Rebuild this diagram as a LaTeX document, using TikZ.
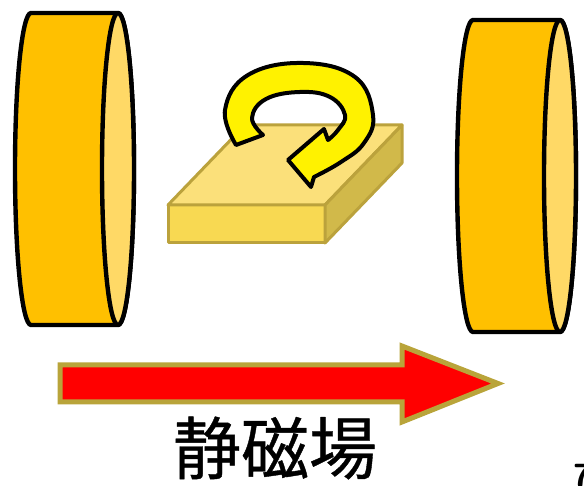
\documentclass[tikz,border=0pt]{standalone}
\usepackage{fontspec}
\newfontfamily\jpfont[FakeBold=0.6]{Noto Sans CJK JP}
\definecolor{coilgold}{HTML}{FFC000}
\definecolor{coillight}{HTML}{FFD966}
\definecolor{slabtop}{HTML}{FBE07A}
\definecolor{slabfront}{HTML}{F8D952}
\definecolor{slabside}{HTML}{D1B94A}
\definecolor{slabedge}{HTML}{BBA23C}
\definecolor{fieldedge}{HTML}{B9A43A}

\begin{document}
\begin{tikzpicture}[x=0.5pt,y=0.5pt,line join=round,
  coil/.style={draw=black,line width=2.2pt,fill=coilgold},
  slab/.style={draw=slabedge,line width=1.5pt},
  spin/.style={draw=black,line width=2pt,fill=yellow},
  field/.style={draw=fieldedge,line width=2.5pt,fill=red,line join=miter}]
\useasboundingbox (0,0) rectangle (584,486);

% the two coils
\foreach \cx/\cy in {31/317,473/310}{
  \filldraw[coil] (\cx+87,\cy+156) -- (\cx,\cy+156)
    arc[start angle=90,end angle=270,x radius=16,y radius=156]
    -- (\cx+87,\cy-156)
    arc[start angle=-90,end angle=90,x radius=16,y radius=156] -- cycle;
  \filldraw[coil,fill=coillight] (\cx+87,\cy) ellipse[x radius=16,y radius=156];
}

% sample block
\filldraw[slab,fill=slabfront] (168,243) rectangle (325,281);
\filldraw[slab,fill=slabtop] (168,281) -- (245,361) -- (402,361) -- (325,281) -- cycle;
\filldraw[slab,fill=slabside] (325,281) -- (402,361) -- (402,323) -- (325,243) -- cycle;

% rotation arrow
\filldraw[spin] plot[smooth,tension=0.7] coordinates {(236,341) (225,376) (248,411)
    (303,423) (355,409) (373,371) (364,343) (341,324) (314,309)}
  -- (311,299) -- (288,326) -- (324,357) -- (328,346)
  -- plot[smooth,tension=0.7] coordinates {(328,346) (338,356) (345,371) (330,389)
    (300,394) (266,387) (252,368) (263,351)} -- cycle;

% field arrow
\filldraw[field] (60,121) -- (402,121) -- (402,140) -- (498,102.5)
  -- (402,64) -- (402,84) -- (60,84) -- cycle;

\node[font=\jpfont\fontsize{34}{40}\selectfont] (label) at (275,38) {静磁場};
\node[font=\sffamily\bfseries\fontsize{16}{18}\selectfont,anchor=north west,inner sep=0pt] (tag) at (573,22) {7};
\end{tikzpicture}
\end{document}
